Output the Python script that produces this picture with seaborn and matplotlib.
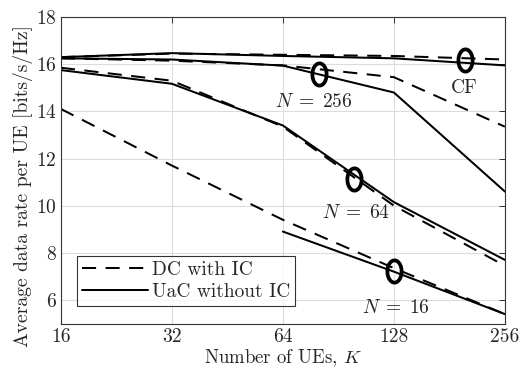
"""Average data rate per UE vs number of UEs, DC with IC vs UaC without IC."""

import matplotlib.pyplot as plt
import numpy as np
import pandas as pd
import seaborn as sns
from matplotlib.lines import Line2D
from matplotlib.path import Path
from matplotlib.ticker import FixedLocator, FixedFormatter, NullLocator

# Number of UEs
K = [16, 32, 64, 128, 256]

# DC with IC (dashed)
dc_cf = [16.3, 16.45, 16.4, 16.35, 16.2]
dc_n256 = [16.25, 16.15, 15.95, 15.45, 13.35]
dc_n64 = [15.85, 15.3, 13.35, 10.0, 7.45]
dc_n16 = [14.1, 11.7, 9.4, 7.35, 5.4]

# UaC without IC (solid); N=16 only from K=64
uac_cf = [16.3, 16.47, 16.35, 16.25, 15.95]
uac_n256 = [16.25, 16.2, 15.94, 14.8, 10.6]
uac_n64 = [15.75, 15.17, 13.4, 10.15, 7.7]
K_uac_n16 = [64, 128, 256]
uac_n16 = [8.9, 7.2, 5.4]

# curve annotations: ellipse position and label position
ann_names = ["CF", r"$N\;=\;256$", r"$N\;=\;64$", r"$N\;=\;16$"]
ann_ellipse_k = [200, 80, 100, 128]
ann_ellipse_y = [16.17, 15.58, 11.15, 7.21]
ann_text_k = [199, 77.7, 101, 129.5]
ann_text_y = [14.98, 14.38, 9.7, 5.66]

sns.set_style("white")
plt.rcParams["font.family"] = ["cmr10", "DejaVu Serif"]
plt.rcParams["mathtext.fontset"] = "cm"
plt.rcParams["axes.unicode_minus"] = False
plt.rcParams["axes.formatter.use_mathtext"] = True

rows = []
for name, xs, ys in [
    ("dc_cf", K, dc_cf), ("dc_n256", K, dc_n256),
    ("dc_n64", K, dc_n64), ("dc_n16", K, dc_n16),
]:
    rows += [{"K": x, "rate": y, "curve": name, "scheme": "DC with IC"} for x, y in zip(xs, ys)]
for name, xs, ys in [
    ("uac_cf", K, uac_cf), ("uac_n256", K, uac_n256),
    ("uac_n64", K, uac_n64), ("uac_n16", K_uac_n16, uac_n16),
]:
    rows += [{"K": x, "rate": y, "curve": name, "scheme": "UaC without IC"} for x, y in zip(xs, ys)]
df = pd.DataFrame(rows)

fig, ax = plt.subplots(figsize=(5.21, 3.71), dpi=100)

lw = 1.45
dash = (7, 4.7)
sns.lineplot(
    data=df, x="K", y="rate", style="scheme", units="curve", estimator=None,
    color="black", linewidth=lw, dashes={"DC with IC": dash, "UaC without IC": ""},
    legend=False, ax=ax,
)

# ellipse markers
t = np.linspace(0, 2 * np.pi, 60)
ell = Path(np.column_stack([0.64 * np.cos(t), np.sin(t)]))
ax.plot(ann_ellipse_k, ann_ellipse_y, linestyle="none", marker=ell, markersize=16,
        markerfacecolor="none", markeredgecolor="black", markeredgewidth=2.7)
for name, x, y in zip(ann_names, ann_text_k, ann_text_y):
    ax.text(x, y, name, ha="center", va="center", fontsize=14)

ax.set_xscale("log", base=2)
ax.set_xlim(16, 256)
ax.set_ylim(5, 18)
ax.xaxis.set_major_locator(FixedLocator(K))
ax.xaxis.set_major_formatter(FixedFormatter([str(k) for k in K]))
ax.xaxis.set_minor_locator(NullLocator())
ax.set_yticks([6, 8, 10, 12, 14, 16, 18])
ax.grid(True, color="#dcdcdc", linewidth=0.8)
ax.tick_params(direction="in", length=4, top=True, right=True, labelsize=14,
               color="#333333", width=0.7, pad=3)
for s in ax.spines.values():
    s.set_color("#333333")
    s.set_linewidth(0.8)

ax.set_xlabel("Number of UEs, $K$", fontsize=13.5, labelpad=1)
ax.set_ylabel("Average data rate per UE [bits/s/Hz]", fontsize=14.1)
ax.yaxis.set_label_coords(-0.062, 0.45)

handles = [
    Line2D([], [], color="black", linewidth=lw, dashes=dash),
    Line2D([], [], color="black", linewidth=lw),
]
leg = ax.legend(handles, ["DC with IC", "UaC without IC"], loc="lower left",
                bbox_to_anchor=(0.036, 0.058), fontsize=14, frameon=True, fancybox=False,
                edgecolor="black", handlelength=3.4, handletextpad=0.2,
                borderpad=0.25, labelspacing=0.2, borderaxespad=0)
leg.get_frame().set_linewidth(0.8)

fig.subplots_adjust(left=0.117, right=0.969, top=0.954, bottom=0.128)
fig.savefig("out.png", dpi=100)
